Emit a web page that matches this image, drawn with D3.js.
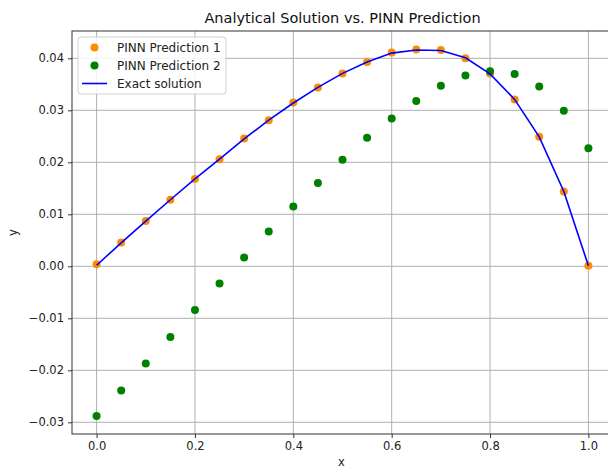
<!DOCTYPE html>
<html>
<head>
<meta charset="utf-8">
<script src="https://cdn.jsdelivr.net/npm/d3@7"></script>
<style>
  html, body { margin: 0; padding: 0; background: #fff; }
  svg { display: block; font-family: "DejaVu Sans", sans-serif; }
</style>
</head>
<body>
<svg id="chart" width="608" height="470"></svg>
<script>
// Sample locations
const xs = [0, 0.05, 0.1, 0.15, 0.2, 0.25, 0.3, 0.35, 0.4, 0.45, 0.5,
            0.55, 0.6, 0.65, 0.7, 0.75, 0.8, 0.85, 0.9, 0.95, 1.0];

// Analytical solution
const exact = [0.0002, 0.0045, 0.0087, 0.0128, 0.0168, 0.0206, 0.0245, 0.0281, 0.0314, 0.0344, 0.0371,
               0.0393, 0.0410, 0.0416, 0.0415, 0.0401, 0.0370, 0.0321, 0.0249, 0.0144, 0.0001];

// Network predictions
const pred1 = [0.0004, 0.0046, 0.0087, 0.0128, 0.0168, 0.0206, 0.0246, 0.0281, 0.0315, 0.0344, 0.0371,
               0.0393, 0.0411, 0.0417, 0.0416, 0.0400, 0.0371, 0.0321, 0.0249, 0.0144, 0.0001];
const pred2 = [-0.0288, -0.0239, -0.0187, -0.0136, -0.0084, -0.0033, 0.0017, 0.0067, 0.0115, 0.0160, 0.0205,
               0.0247, 0.0284, 0.0318, 0.0347, 0.0367, 0.0375, 0.0370, 0.0346, 0.0299, 0.0227];

const xTicks = [0.0, 0.2, 0.4, 0.6, 0.8, 1.0];
const yTicks = [-0.03, -0.02, -0.01, 0.00, 0.01, 0.02, 0.03, 0.04];

const labels = ["PINN Prediction 1", "PINN Prediction 2", "Exact solution"];
const colors = { p1: "#ff8c00", p2: "#008000", exact: "#0000ff" };

const svg = d3.select("#chart");
const margin = { left: 72, right: -5, top: 31, bottom: 36 };
const W = 608, H = 470;
const x0 = margin.left, x1 = W - margin.right;
const y0 = margin.top, y1 = H - margin.bottom;

const x = d3.scaleLinear().domain([-0.05, 1.05]).range([x0, x1]);
const y = d3.scaleLinear().domain([-0.03225, 0.04525]).range([y1, y0]);

const plot = svg.append("g");

// Grid
plot.append("g").selectAll("line").data(xTicks).join("line")
  .attr("x1", d => x(d)).attr("x2", d => x(d))
  .attr("y1", y0).attr("y2", y1)
  .attr("stroke", "#b0b0b0").attr("stroke-width", 1);
plot.append("g").selectAll("line").data(yTicks).join("line")
  .attr("x1", x0).attr("x2", x1)
  .attr("y1", d => y(d)).attr("y2", d => y(d))
  .attr("stroke", "#b0b0b0").attr("stroke-width", 1);

// Axes
const fmt = d3.format(".2f");
const xAxis = d3.axisBottom(x).tickValues(xTicks).tickFormat(d3.format(".1f"))
  .tickSizeInner(4).tickSizeOuter(0).tickPadding(4);
const yAxis = d3.axisLeft(y).tickValues(yTicks)
  .tickFormat(d => d < 0 ? "\u2212" + fmt(-d) : fmt(d))
  .tickSizeInner(4).tickSizeOuter(0).tickPadding(4);

const gx = svg.append("g").attr("transform", `translate(0,${y1})`).call(xAxis);
const gy = svg.append("g").attr("transform", `translate(${x0},0)`).call(yAxis);
[gx, gy].forEach(g => {
  g.select(".domain").remove();
  g.selectAll("text").attr("font-size", 11.5).attr("fill", "#222")
    .attr("font-family", "DejaVu Sans, sans-serif");
  g.selectAll("line").attr("stroke", "#333");
});

// Spines
svg.append("rect").attr("x", x0).attr("y", y0)
  .attr("width", x1 - x0).attr("height", y1 - y0)
  .attr("fill", "none").attr("stroke", "#333").attr("stroke-width", 1);

// Prediction scatter
plot.append("g").selectAll("circle").data(pred1).join("circle")
  .attr("cx", (d, i) => x(xs[i])).attr("cy", d => y(d)).attr("r", 4)
  .attr("fill", colors.p1);
plot.append("g").selectAll("circle").data(pred2).join("circle")
  .attr("cx", (d, i) => x(xs[i])).attr("cy", d => y(d)).attr("r", 4)
  .attr("fill", colors.p2);

// Exact solution line, drawn above the markers
const line = d3.line().x((d, i) => x(xs[i])).y(d => y(d));
plot.append("path").datum(exact)
  .attr("d", line).attr("fill", "none")
  .attr("stroke", colors.exact).attr("stroke-width", 1.6);

// Title and axis labels
svg.append("text").attr("x", (x0 + x1) / 2).attr("y", 23)
  .attr("text-anchor", "middle").attr("font-size", 14.5).attr("fill", "#111")
  .text("Analytical Solution vs. PINN Prediction");
svg.append("text").attr("x", (x0 + x1) / 2 - 1).attr("y", 466)
  .attr("text-anchor", "middle").attr("font-size", 11.5).attr("fill", "#222").text("x");
svg.append("text").attr("transform", `translate(17,${(y0 + y1) / 2}) rotate(-90)`)
  .attr("text-anchor", "middle").attr("font-size", 11.5).attr("fill", "#222").text("y");

// Legend
const lg = svg.append("g").attr("transform", "translate(78,37)");
lg.append("rect").attr("width", 148).attr("height", 57).attr("rx", 3)
  .attr("fill", "#fff").attr("fill-opacity", 0.85)
  .attr("stroke", "#d0d0d0").attr("stroke-width", 1);
const rows = lg.selectAll("g.row").data(labels).join("g")
  .attr("class", "row").attr("transform", (d, i) => `translate(0,${10.5 + i * 18})`);
rows.each(function (d, i) {
  const g = d3.select(this);
  if (i < 2) {
    g.append("circle").attr("cx", 16.5).attr("cy", 0).attr("r", 4)
      .attr("fill", i === 0 ? colors.p1 : colors.p2);
  } else {
    g.append("line").attr("x1", 4).attr("x2", 29).attr("y1", 0).attr("y2", 0)
      .attr("stroke", colors.exact).attr("stroke-width", 1.6);
  }
  g.append("text").attr("x", 39).attr("y", 4.3)
    .attr("font-size", 12).attr("fill", "#222").text(d);
});
</script>
</body>
</html>
